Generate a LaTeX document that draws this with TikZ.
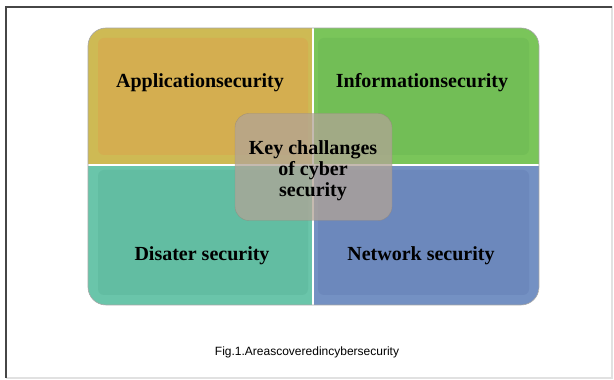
\documentclass[tikz,border=0pt]{standalone}
\usepackage{fontspec}
\setmainfont{Liberation Serif}
\newfontfamily\capfont{Liberation Sans}
\usetikzlibrary{positioning}

\definecolor{appcol}{RGB}{212,174,80}
\definecolor{appedge}{RGB}{206,186,84}
\definecolor{infocol}{RGB}{114,190,86}
\definecolor{infoedge}{RGB}{122,197,90}
\definecolor{discol}{RGB}{98,189,162}
\definecolor{disedge}{RGB}{106,197,170}
\definecolor{netcol}{RGB}{108,136,188}
\definecolor{netedge}{RGB}{116,145,195}
\definecolor{hubcol}{RGB}{178,164,150}
\definecolor{framedark}{RGB}{70,70,70}
\definecolor{framelight}{RGB}{225,225,225}

\tikzset{
	area/.style={font=\bfseries\fontsize{20}{21}\selectfont, text=black, align=center},
	hub/.style={draw=hubcol!80!black, fill=hubcol, fill opacity=0.75, draw opacity=0.6,
		rounded corners=14pt, minimum width=157pt, minimum height=107pt},
	caption/.style={font=\capfont\fontsize{12}{14}\selectfont}
}

\begin{document}
\begin{tikzpicture}[x=1pt,y=1pt]

	\useasboundingbox (0,0) rectangle (614,380);
	\fill[white] (0,0) rectangle (614,380);
	% frame
	\draw[framelight, line width=1.2pt] (6,373) -- (612,373) -- (612,2) -- (6,2);
	\draw[framedark, line width=2pt] (6,2) -- (6,373) -- (612,373);

	% the four areas
	\begin{scope}
		\clip[rounded corners=18pt] (88,75) rectangle (539,352);
		\fill[appedge]  (88,215) rectangle (313,352);
		\fill[appcol, rounded corners=6pt]   (98,225) rectangle (308,342);
		\fill[infoedge] (313,215) rectangle (539,352);
		\fill[infocol, rounded corners=6pt]  (318,225) rectangle (529,342);
		\fill[disedge]  (88,75) rectangle (313,215);
		\fill[discol, rounded corners=6pt]   (98,85) rectangle (308,210);
		\fill[netedge]  (313,75) rectangle (539,215);
		\fill[netcol, rounded corners=6pt]   (318,85) rectangle (529,210);
		\draw[white, line width=2pt] (88,215) -- (539,215);
		\draw[white, line width=1.2pt] (313,75) -- (313,352);
	\end{scope}
	\draw[gray!70, line width=0.6pt, rounded corners=18pt] (88,75) rectangle (539,352);

	\node[area] (app)  at (200,297) {Applicationsecurity};
	\node[area] (info) at (422,297) {Informationsecurity};
	\node[area] (dis)  at (202,124) {Disater security};
	\node[area] (net)  at (421,124) {Network security};

	\node[hub] (core) at (313.5,213) {};
	\node[area] (coretext) at (313,209) {Key challanges\\of cyber\\security};

	\node[caption] (cap) at (307,28) {Fig.1.Areascoveredincybersecurity};

\end{tikzpicture}
\end{document}
